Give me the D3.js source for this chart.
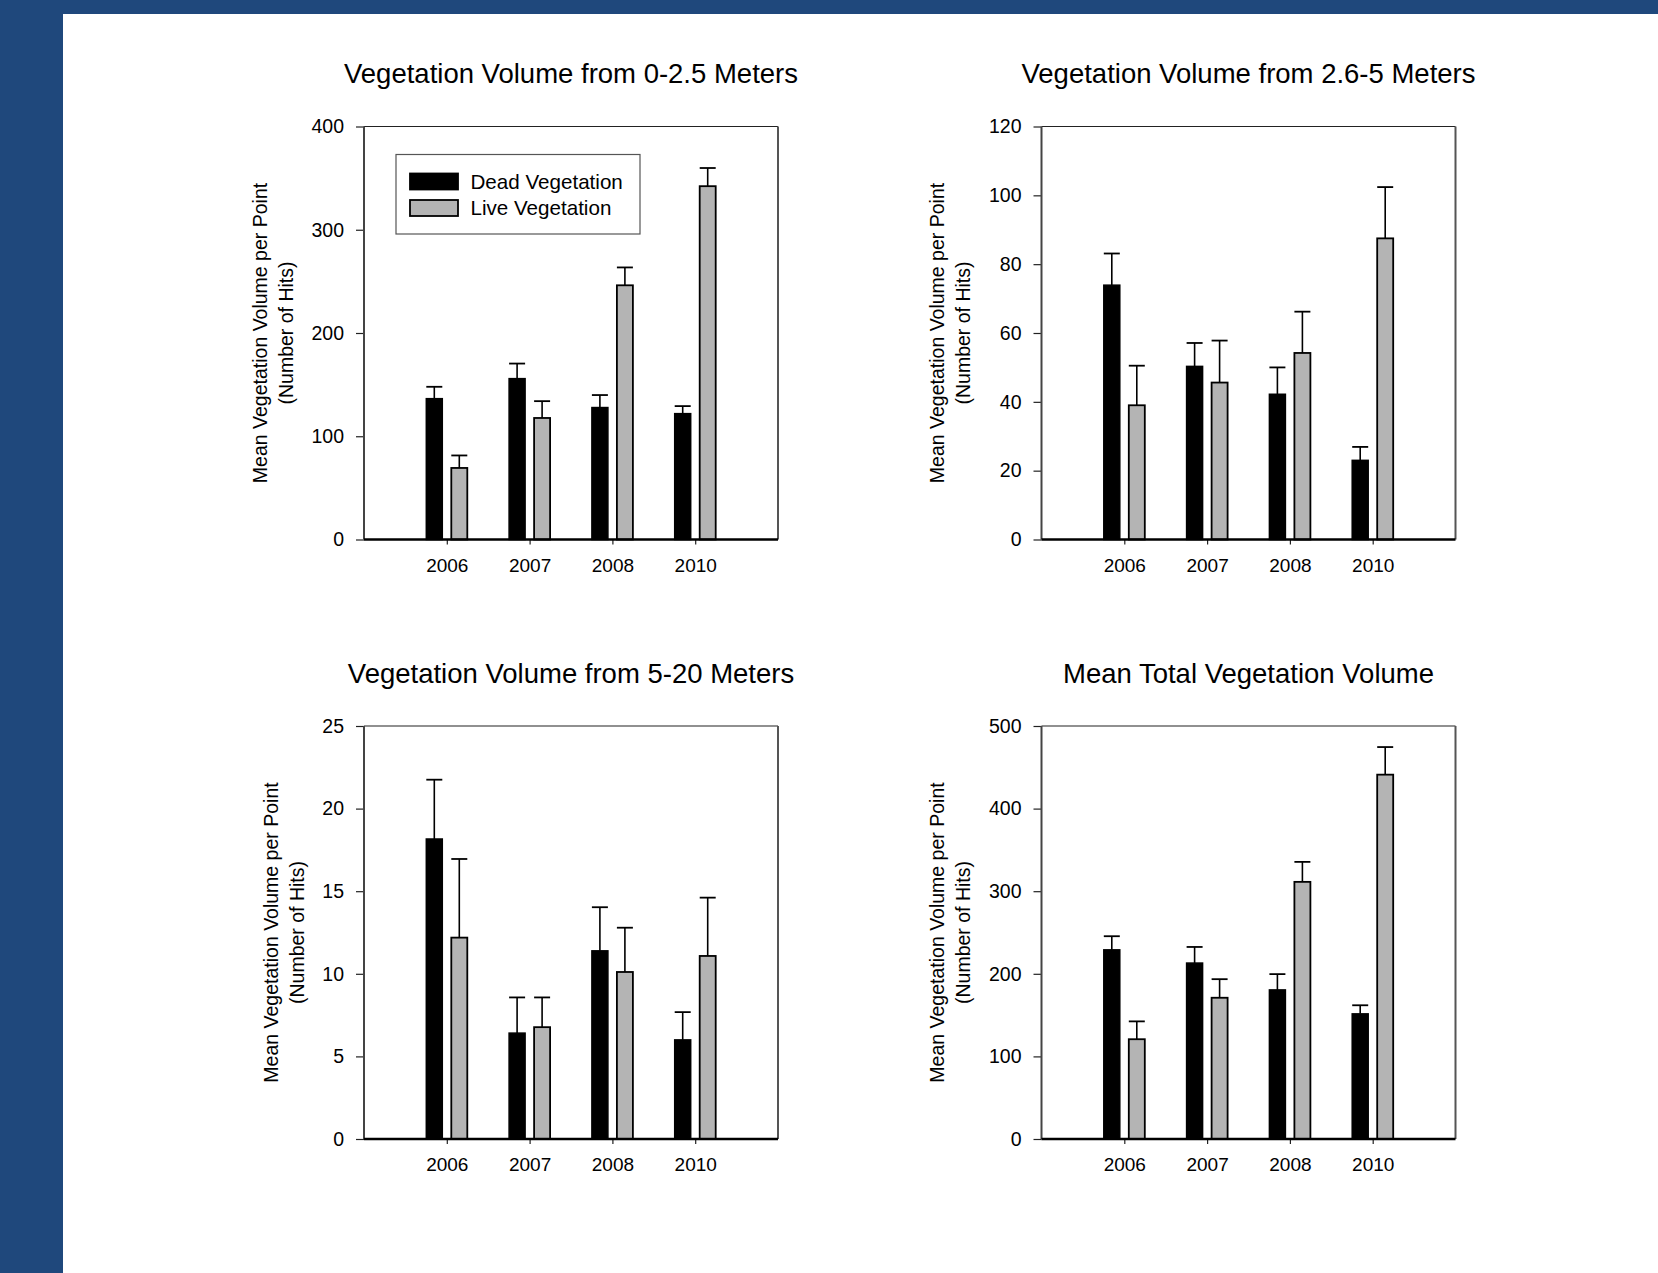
<!DOCTYPE html>
<html>
<head>
<meta charset="utf-8">
<script src="https://cdn.jsdelivr.net/npm/d3@7"></script>
<style>
  body { margin: 0; background: #fff; }
  text { font-family: "Liberation Sans", Arial, sans-serif; fill: #000; }
</style>
</head>
<body>
<svg id="myGraph" width="1658" height="1273"></svg>
<script>
// categories and labels
var years = ["2006", "2007", "2008", "2010"];
var seriesNames = ["Dead Vegetation", "Live Vegetation"];
var titles = [
  "Vegetation Volume from 0-2.5 Meters",
  "Vegetation Volume from 2.6-5 Meters",
  "Vegetation Volume from 5-20 Meters",
  "Mean Total Vegetation Volume"
];
var yLabelLine1 = "Mean Vegetation Volume per Point";
var yLabelLine2 = "(Number of Hits)";

// 0-2.5 m
var dead1 = [136.4, 155.8, 127.8, 121.9];
var deadErr1 = [11.5, 14.6, 12.1, 7.3];
var live1 = [69.3, 117.7, 246.2, 342.2];
var liveErr1 = [12.1, 16.3, 17.3, 17.6];
var ticks1 = [0, 100, 200, 300, 400];

// 2.6-5 m
var dead2 = [73.9, 50.3, 42.2, 23.0];
var deadErr2 = [9.2, 6.8, 7.8, 3.9];
var live2 = [39.0, 45.6, 54.2, 87.5];
var liveErr2 = [11.5, 12.2, 12.0, 14.9];
var ticks2 = [0, 20, 40, 60, 80, 100, 120];

// 5-20 m
var dead3 = [18.16, 6.41, 11.39, 6.0];
var deadErr3 = [3.59, 2.16, 2.64, 1.68];
var live3 = [12.19, 6.77, 10.11, 11.08];
var liveErr3 = [4.76, 1.8, 2.68, 3.53];
var ticks3 = [0, 5, 10, 15, 20, 25];

// total
var dead4 = [229.0, 213.0, 180.5, 151.5];
var deadErr4 = [16.5, 19.5, 19.1, 10.4];
var live4 = [120.8, 171.0, 311.3, 441.1];
var liveErr4 = [21.6, 22.5, 24.2, 33.4];
var ticks4 = [0, 100, 200, 300, 400, 500];

// layout
var svg = d3.select("#myGraph");
const PLOT_W = 414;
const PLOT_H = 413;
const BAR_W = 16;
const BAR_GAP = 9;
const LIVE_FILL = "#b4b4b4";

// blue frame
svg.append("rect").attr("x", 0).attr("y", 0).attr("width", 1658).attr("height", 14).attr("fill", "#1f487c");
svg.append("rect").attr("x", 0).attr("y", 0).attr("width", 63).attr("height", 1273).attr("fill", "#1f487c");

var panels = [
  {title: titles[0], dead: dead1, deadErr: deadErr1, live: live1, liveErr: liveErr1, ticks: ticks1, left: 364, top: 126.5, legend: true},
  {title: titles[1], dead: dead2, deadErr: deadErr2, live: live2, liveErr: liveErr2, ticks: ticks2, left: 1041.5, top: 126.5},
  {title: titles[2], dead: dead3, deadErr: deadErr3, live: live3, liveErr: liveErr3, ticks: ticks3, left: 364, top: 726},
  {title: titles[3], dead: dead4, deadErr: deadErr4, live: live4, liveErr: liveErr4, ticks: ticks4, left: 1041.5, top: 726}
];

function drawPanel(p){
  var g = svg.append("g").attr("transform", "translate(" + p.left + "," + p.top + ")");

  var x = d3.scalePoint().domain(years).range([0, PLOT_W]).padding(1);
  var y = d3.scaleLinear().domain([0, d3.max(p.ticks)]).range([PLOT_H, 0]);

  // title
  g.append("text")
    .attr("x", PLOT_W / 2)
    .attr("y", -43.5)
    .attr("text-anchor", "middle")
    .style("font-size", "27.5px")
    .text(p.title);

  // frame (top and right)
  g.append("line").attr("x1", 0).attr("x2", PLOT_W).attr("y1", 0).attr("y2", 0)
    .attr("stroke", "#222").attr("stroke-width", 1.2);
  g.append("line").attr("x1", PLOT_W).attr("x2", PLOT_W).attr("y1", 0).attr("y2", PLOT_H)
    .attr("stroke", "#555").attr("stroke-width", 2);

  // y axis
  var yAxis = g.append("g")
    .call(d3.axisLeft(y).tickValues(p.ticks).tickSize(8).tickPadding(12).tickFormat(d3.format("d")));
  yAxis.select(".domain").remove();
  yAxis.selectAll(".tick line").attr("stroke", "#222").attr("stroke-width", 1.2);
  yAxis.selectAll(".tick text").style("font-size", "19.5px").attr("fill", "#000");
  g.append("line").attr("x1", 0).attr("x2", 0).attr("y1", 0).attr("y2", PLOT_H)
    .attr("stroke", "#444").attr("stroke-width", 2);

  // x axis
  var xAxis = g.append("g")
    .attr("transform", "translate(0," + PLOT_H + ")")
    .call(d3.axisBottom(x).tickSize(5).tickPadding(14));
  xAxis.select(".domain").remove();
  xAxis.selectAll(".tick line").attr("stroke", "#222").attr("stroke-width", 1.2);
  xAxis.selectAll(".tick text").style("font-size", "19px").attr("fill", "#000");

  // y label, placed left of the widest tick label
  var labW = d3.max(yAxis.selectAll(".tick text").nodes(), function(n){ return n.getBBox().width; });
  var lx2 = -20 - labW - 18.5;
  var lx1 = lx2 - 26;
  [[lx1, yLabelLine1], [lx2, yLabelLine2]].forEach(function(l){
    g.append("text")
      .attr("transform", "translate(" + l[0] + "," + (PLOT_H / 2) + ") rotate(-90)")
      .attr("text-anchor", "middle")
      .style("font-size", "19.5px")
      .text(l[1]);
  });

  // bars
  var rows = years.map(function(yr, i){
    return {year: yr, dead: p.dead[i], deadErr: p.deadErr[i], live: p.live[i], liveErr: p.liveErr[i]};
  });

  // error bars (upper only) drawn first
  rows.forEach(function(d){
    var cxDead = x(d.year) - BAR_GAP / 2 - BAR_W / 2;
    var cxLive = x(d.year) + BAR_GAP / 2 + BAR_W / 2;
    [[cxDead, d.dead, d.deadErr], [cxLive, d.live, d.liveErr]].forEach(function(e){
      g.append("line").attr("x1", e[0]).attr("x2", e[0])
        .attr("y1", y(e[1])).attr("y2", y(e[1] + e[2]))
        .attr("stroke", "#000").attr("stroke-width", 1.6);
      g.append("line").attr("x1", e[0] - BAR_W / 2).attr("x2", e[0] + BAR_W / 2)
        .attr("y1", y(e[1] + e[2])).attr("y2", y(e[1] + e[2]))
        .attr("stroke", "#000").attr("stroke-width", 1.8);
    });
  });

  g.selectAll(".dead")
    .data(rows)
    .enter()
    .append("rect")
    .attr("class", "dead")
    .attr("x", function(d){ return x(d.year) - BAR_GAP / 2 - BAR_W; })
    .attr("width", BAR_W)
    .attr("y", function(d){ return y(d.dead); })
    .attr("height", function(d){ return PLOT_H - y(d.dead); })
    .attr("fill", "#000")
    .attr("stroke", "#000")
    .attr("stroke-width", 1.5);

  g.selectAll(".live")
    .data(rows)
    .enter()
    .append("rect")
    .attr("class", "live")
    .attr("x", function(d){ return x(d.year) + BAR_GAP / 2; })
    .attr("width", BAR_W)
    .attr("y", function(d){ return y(d.live); })
    .attr("height", function(d){ return PLOT_H - y(d.live); })
    .attr("fill", LIVE_FILL)
    .attr("stroke", "#000")
    .attr("stroke-width", 1.8);

  // bottom axis line
  g.append("line").attr("x1", 0).attr("x2", PLOT_W).attr("y1", PLOT_H).attr("y2", PLOT_H)
    .attr("stroke", "#000").attr("stroke-width", 2.4);

  // legend
  if(p.legend){
    var lg = g.append("g").attr("transform", "translate(32,28)");
    lg.append("rect").attr("x", 0).attr("y", 0).attr("width", 244).attr("height", 79.5)
      .attr("fill", "#fff").attr("stroke", "#555").attr("stroke-width", 1.2);
    var fills = ["#000", LIVE_FILL];
    seriesNames.forEach(function(name, i){
      lg.append("rect")
        .attr("x", 14).attr("y", 19 + i * 26.5)
        .attr("width", 48).attr("height", 16)
        .attr("fill", fills[i]).attr("stroke", "#000").attr("stroke-width", 1.8);
      lg.append("text")
        .attr("x", 74.5).attr("y", 34 + i * 26.5)
        .style("font-size", "20.6px")
        .text(name);
    });
  }
}

panels.forEach(drawPanel);
</script>
</body>
</html>
